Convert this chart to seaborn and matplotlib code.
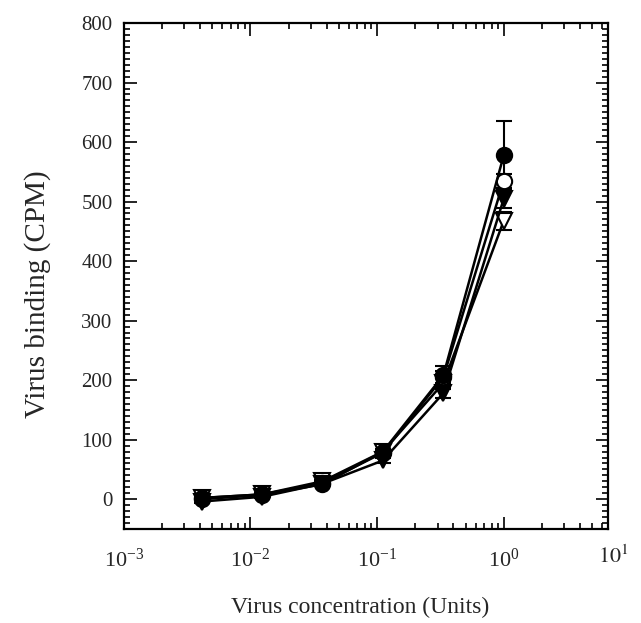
import numpy as np
import pandas as pd
import matplotlib
matplotlib.use("Agg")
import matplotlib.pyplot as plt
from matplotlib.ticker import LogLocator, MultipleLocator, LogFormatterMathtext, NullFormatter
import seaborn as sns

# dados
concentration = [1 / 243, 1 / 81, 1 / 27, 1 / 9, 1 / 3, 1.0]
filled_circle = [0, 7, 25, 80, 208, 578]
filled_circle_err = [2, 2, 3, 5, 15, 58]
open_circle = [2, 8, 27, 78, 205, 535]
open_circle_err = [2, 2, 3, 4, 10, 12]
filled_triangle = [-4, 4, 26, 65, 178, 505]
filled_triangle_err = [2, 2, 3, 4, 8, 15]
open_triangle = [2, 8, 30, 80, 195, 468]
open_triangle_err = [2, 2, 3, 4, 10, 15]

series = [
    ("open_triangle", open_triangle, open_triangle_err, "v", "white"),
    ("filled_triangle", filled_triangle, filled_triangle_err, "v", "black"),
    ("open_circle", open_circle, open_circle_err, "o", "white"),
    ("filled_circle", filled_circle, filled_circle_err, "o", "black"),
]

sns.set_style("ticks")
plt.rcParams['font.family'] = ['Liberation Serif', 'DejaVu Serif']
plt.rcParams['mathtext.fontset'] = 'stix'

fig = plt.figure(figsize=(6.41, 6.23), dpi=100)
ax = fig.add_axes([0.193, 0.151, 0.756, 0.812])

for name, vals, errs, marker, face in series:
    df = pd.DataFrame({"x": concentration, "y": vals})
    ax.errorbar(concentration, vals, yerr=errs, fmt="none", ecolor="black",
                elinewidth=1.5, capsize=6, capthick=1.5, zorder=2)
    sns.lineplot(data=df, x="x", y="y", ax=ax, color="black", linewidth=1.8,
                 marker=marker, markersize=11, markerfacecolor=face,
                 markeredgecolor="black", markeredgewidth=1.5, zorder=3)

ax.set_xscale("log")
ax.set_xlim(1e-3, 10 ** 0.825)
ax.set_ylim(-50, 800)

ax.xaxis.set_major_locator(LogLocator(base=10, numticks=10))
ax.xaxis.set_minor_locator(LogLocator(base=10, subs=np.arange(2, 10), numticks=10))
ax.xaxis.set_major_formatter(LogFormatterMathtext())
ax.xaxis.set_minor_formatter(NullFormatter())
ax.yaxis.set_major_locator(MultipleLocator(100))
ax.yaxis.set_minor_locator(MultipleLocator(10))

ax.tick_params(which="both", direction="in", top=True, right=True, color="black", width=1.2)
ax.tick_params(which="major", length=9, labelsize=15, pad=14)
ax.tick_params(which="minor", length=4)
ax.tick_params(axis="x", which="major", labelsize=16)
ax.tick_params(axis="y", which="major", pad=8)
for sp in ax.spines.values():
    sp.set_linewidth(1.6)
    sp.set_color("black")

# rótulo 10^1 fora do eixo (cortado na imagem original)
ax.text(0.979, -0.033, r"$10^{1}$", transform=ax.transAxes, ha="left", va="top",
        fontsize=16, clip_on=False)

ax.set_xlabel("Virus concentration (Units)", fontsize=17)
ax.set_ylabel("Virus binding (CPM)", fontsize=21)
ax.xaxis.set_label_coords(0.488, -0.135)
ax.yaxis.set_label_coords(-0.151, 0.464)

fig.savefig("out.png", dpi=100)
